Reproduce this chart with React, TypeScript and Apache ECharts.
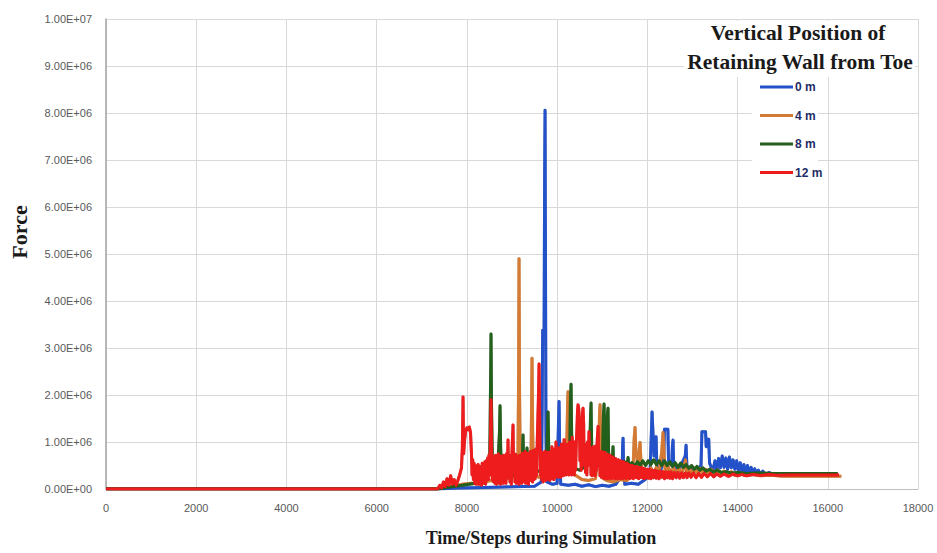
import { useEffect, useRef } from "react";
import * as echarts from "echarts";

// Legend labels and line colours, one per wall position
const seriesNames = ["0 m", "4 m", "8 m", "12 m"];
const seriesColors = ["#2451c9", "#d57a33", "#24601f", "#ee1b1b"];

// Axis ranges
const xMax = 18000;
const xStep = 2000;
const yMax = 1e7;
const yStep = 1e6;

// [time step, force in units of 1e6]
const wall0m: [number, number][] = [
  [0, 0], [7350, 0], [7800, 0.02], [8400, 0.03], [9000, 0.05], [9500, 0.06], [9650, 0.15],
  [9668, 1.6], [9680, 3.38], [9712, 3.38], [9724, 6.8], [9733, 8.06], [9742, 5.0], [9752, 1.2],
  [9770, 0.15], [9900, 0.1], [10000, 0.12], [10028, 1.3], [10043, 1.86], [10058, 0.8], [10080, 0.1],
  [10250, 0.08], [10400, 0.1], [10550, 0.06], [10700, 0.09], [10850, 0.05], [11000, 0.08],
  [11150, 0.06], [11300, 0.1], [11440, 0.3], [11452, 0.9], [11462, 1.08], [11474, 0.5], [11500, 0.1],
  [11650, 0.12], [11800, 0.1], [11950, 0.2], [12060, 0.35], [12090, 1.2], [12105, 1.64],
  [12120, 1.3], [12150, 0.7], [12180, 1.0], [12194, 1.11], [12210, 0.5], [12280, 0.35],
  [12360, 0.6], [12380, 1.27], [12455, 1.27], [12470, 0.6], [12540, 0.5], [12555, 0.9],
  [12570, 1.04], [12585, 0.5], [12700, 0.4], [12840, 0.7], [12859, 0.93], [12878, 0.45],
  [13000, 0.4], [13100, 0.38], [13190, 0.5], [13210, 1.22], [13290, 1.22], [13305, 0.9],
  [13330, 1.06], [13360, 1.06], [13380, 0.55], [13450, 0.38], [13500, 0.6], [13540, 0.4],
  [13580, 0.65], [13620, 0.45], [13660, 0.7], [13700, 0.46], [13740, 0.66], [13780, 0.42],
  [13820, 0.68], [13860, 0.45], [13900, 0.62], [13940, 0.42], [13980, 0.6], [14020, 0.38],
  [14060, 0.56], [14100, 0.37], [14140, 0.52], [14180, 0.35], [14220, 0.5], [14260, 0.34],
  [14300, 0.46], [14340, 0.33], [14380, 0.43], [14420, 0.32], [14460, 0.4], [14500, 0.31],
  [14560, 0.38], [14620, 0.3], [14700, 0.35], [14800, 0.3], [14900, 0.33], [15000, 0.3],
  [15400, 0.3], [15800, 0.3], [16150, 0.3],
];

const wall4m: [number, number][] = [
  [0, 0], [7350, 0], [7500, 0.04], [7700, 0.06], [7900, 0.1], [8100, 0.12], [8300, 0.1],
  [8500, 0.18], [8700, 0.15], [8900, 0.22], [9050, 0.28], [9130, 0.4], [9145, 2.2], [9156, 4.9],
  [9168, 2.0], [9185, 0.3], [9300, 0.25], [9420, 0.45], [9432, 1.6], [9444, 2.78], [9458, 1.2],
  [9475, 0.3], [9600, 0.25], [9750, 0.3], [9900, 0.22], [10050, 0.3], [10180, 0.35], [10220, 1.2],
  [10235, 1.9], [10243, 2.07], [10258, 1.6], [10280, 0.5], [10400, 0.3], [10550, 0.2],
  [10700, 0.18], [10850, 0.22], [10925, 0.8], [10940, 1.6], [10952, 1.79], [10965, 1.1],
  [10985, 0.25], [11100, 0.18], [11250, 0.15], [11400, 0.2], [11550, 0.18], [11680, 0.35],
  [11710, 1.1], [11728, 1.31], [11745, 0.8], [11790, 0.5], [11815, 0.8], [11839, 0.99],
  [11860, 0.55], [11900, 0.3], [11960, 0.42], [12020, 0.3], [12080, 0.45], [12140, 0.32],
  [12200, 0.46], [12260, 0.34], [12320, 0.8], [12349, 1.2], [12372, 0.7], [12400, 0.36],
  [12460, 0.48], [12520, 0.34], [12580, 0.46], [12640, 0.33], [12700, 0.45], [12760, 0.32],
  [12820, 0.5], [12845, 0.62], [12870, 0.35], [12930, 0.45], [12990, 0.33], [13050, 0.44],
  [13110, 0.32], [13170, 0.44], [13230, 0.33], [13290, 0.42], [13350, 0.32], [13420, 0.42],
  [13490, 0.31], [13560, 0.4], [13630, 0.31], [13700, 0.38], [13780, 0.3], [13860, 0.37],
  [13940, 0.29], [14020, 0.35], [14150, 0.29], [14300, 0.32], [14500, 0.28], [14750, 0.29],
  [15000, 0.27], [15400, 0.27], [15800, 0.27], [16200, 0.27], [16300, 0.27],
];

const wall8m: [number, number][] = [
  [0, 0], [7350, 0], [7600, 0.04], [7900, 0.08], [8200, 0.12], [8400, 0.18], [8505, 0.5],
  [8522, 2.0], [8535, 3.3], [8548, 1.6], [8570, 0.35], [8680, 0.4], [8722, 1.2], [8735, 1.77],
  [8748, 0.9], [8770, 0.3], [8900, 0.35], [9050, 0.3], [9200, 0.45], [9235, 0.8], [9245, 1.15],
  [9258, 0.5], [9320, 0.5], [9333, 0.87], [9346, 0.4], [9500, 0.35], [9650, 0.4], [9770, 0.55],
  [9788, 1.3], [9800, 1.64], [9815, 0.8], [9840, 0.35], [10000, 0.4], [10150, 0.45],
  [10280, 0.6], [10296, 1.9], [10309, 2.23], [10322, 1.2], [10345, 0.45], [10500, 0.4],
  [10650, 0.5], [10728, 1.0], [10742, 1.6], [10753, 1.83], [10766, 0.9], [10790, 0.45],
  [10900, 0.5], [11010, 0.7], [11028, 1.6], [11041, 1.81], [11056, 0.9], [11080, 0.8],
  [11100, 1.2], [11115, 1.6], [11129, 1.72], [11143, 0.7], [11180, 0.5], [11228, 0.7],
  [11240, 0.9], [11252, 0.5], [11320, 0.55], [11400, 0.5], [11480, 0.58], [11555, 0.55],
  [11573, 0.67], [11590, 0.5], [11660, 0.56], [11720, 0.48], [11780, 0.58], [11840, 0.5],
  [11900, 0.6], [11960, 0.5], [12020, 0.6], [12080, 0.52], [12140, 0.62], [12200, 0.52],
  [12260, 0.6], [12320, 0.5], [12380, 0.6], [12440, 0.5], [12500, 0.58], [12560, 0.48],
  [12620, 0.56], [12680, 0.46], [12740, 0.55], [12800, 0.46], [12860, 0.52], [12920, 0.44],
  [12980, 0.5], [13040, 0.42], [13100, 0.48], [13160, 0.4], [13230, 0.45], [13300, 0.38],
  [13380, 0.42], [13460, 0.36], [13550, 0.4], [13650, 0.35], [13750, 0.37], [13850, 0.34],
  [14000, 0.35], [14200, 0.33], [14500, 0.34], [14800, 0.33], [15200, 0.33], [15600, 0.33],
  [16000, 0.33], [16220, 0.33],
];

const wall12m: [number, number][] = [
  [0, 0], [7350, 0], [7400, 0.08], [7440, 0.02], [7480, 0.15], [7520, 0.05], [7560, 0.22],
  [7600, 0.08], [7640, 0.28], [7680, 0.1], [7720, 0.2], [7760, 0.08], [7800, 0.18], [7840, 0.3],
  [7880, 0.45], [7900, 0.9], [7915, 1.96], [7928, 0.75], [7950, 1.05], [7975, 1.25], [8000, 1.3],
  [8030, 1.26], [8055, 1.32], [8080, 1.2], [8100, 0.8], [8115, 0.3], [8130, 0.62], [8145, 0.2],
  [8160, 0.55], [8175, 0.12], [8190, 0.5], [8205, 0.1], [8220, 0.45], [8235, 0.15], [8250, 0.52],
  [8265, 0.1], [8280, 0.42], [8295, 0.12], [8310, 0.48], [8325, 0.08], [8340, 0.55], [8355, 0.15],
  [8370, 0.5], [8385, 0.12], [8400, 0.58], [8415, 0.1], [8430, 0.6], [8445, 0.2], [8460, 0.66],
  [8475, 0.2], [8490, 0.72], [8505, 0.3], [8520, 0.95], [8535, 1.9], [8550, 0.6], [8565, 0.2],
  [8580, 0.7], [8595, 0.15], [8610, 0.65], [8625, 0.12], [8640, 0.72], [8655, 0.1], [8670, 0.6],
  [8685, 0.15], [8700, 0.75], [8715, 0.12], [8730, 0.62], [8745, 0.1], [8760, 0.7], [8775, 0.15],
  [8790, 0.66], [8805, 0.12], [8820, 0.72], [8835, 0.18], [8850, 0.64], [8865, 0.12], [8880, 0.75],
  [8895, 0.3], [8912, 1.04], [8925, 0.25], [8940, 0.68], [8955, 0.15], [8970, 0.72], [8985, 0.1],
  [9000, 0.8], [9012, 1.1], [9023, 1.36], [9035, 0.4], [9050, 0.7], [9065, 0.15], [9080, 0.74],
  [9095, 0.12], [9110, 0.7], [9125, 0.15], [9140, 0.66], [9155, 0.1], [9170, 0.72], [9185, 0.15],
  [9200, 0.68], [9215, 0.12], [9230, 0.76], [9245, 0.18], [9260, 0.72], [9275, 0.15], [9290, 0.8],
  [9305, 0.12], [9320, 0.7], [9335, 0.15], [9350, 0.76], [9365, 0.1], [9380, 0.7], [9395, 0.18],
  [9410, 0.8], [9425, 0.2], [9440, 0.72], [9455, 0.15], [9470, 0.82], [9485, 0.2], [9500, 0.74],
  [9515, 0.22], [9530, 0.85], [9545, 0.3], [9565, 1.2], [9585, 1.9], [9600, 2.66], [9615, 1.4],
  [9630, 0.3], [9645, 0.8], [9660, 0.2], [9675, 0.78], [9690, 0.15], [9705, 0.72], [9720, 0.2],
  [9735, 0.8], [9750, 0.18], [9765, 0.7], [9780, 0.2], [9795, 0.78], [9810, 0.22], [9825, 0.68],
  [9840, 0.18], [9855, 0.8], [9870, 0.25], [9885, 0.9], [9900, 0.22], [9915, 0.74], [9930, 0.2],
  [9945, 0.85], [9960, 0.25], [9975, 1.0], [9990, 0.3], [10005, 0.8], [10020, 0.25], [10035, 0.88],
  [10050, 0.3], [10065, 0.78], [10080, 0.25], [10095, 0.95], [10110, 0.3], [10125, 0.82],
  [10140, 0.28], [10155, 1.05], [10170, 0.32], [10185, 0.85], [10200, 0.3], [10215, 0.95],
  [10230, 0.35], [10245, 0.88], [10260, 0.3], [10275, 1.0], [10290, 0.35], [10305, 0.86],
  [10320, 0.3], [10335, 1.1], [10350, 0.35], [10365, 0.9], [10380, 0.3], [10395, 1.0],
  [10410, 0.4], [10425, 0.95], [10440, 1.3], [10452, 1.65], [10464, 1.79], [10478, 1.72],
  [10492, 1.5], [10506, 0.6], [10520, 0.9], [10535, 0.4], [10550, 1.2], [10562, 1.6],
  [10575, 1.72], [10588, 1.4], [10600, 0.5], [10615, 0.95], [10630, 0.35], [10645, 0.85],
  [10660, 0.3], [10675, 1.0], [10690, 0.5], [10708, 1.22], [10722, 0.5], [10737, 0.88],
  [10752, 0.3], [10767, 0.82], [10782, 0.28], [10797, 0.9], [10812, 0.3], [10827, 0.8],
  [10842, 0.28], [10857, 0.92], [10872, 0.4], [10890, 1.05], [10908, 1.33], [10922, 0.5],
  [10937, 0.8], [10952, 0.28], [10967, 0.76], [10982, 0.25], [10997, 0.8], [11012, 0.25],
  [11027, 0.74], [11042, 0.22], [11057, 0.78], [11072, 0.25], [11087, 0.7], [11102, 0.22],
  [11117, 0.74], [11132, 0.25], [11147, 0.68], [11162, 0.22], [11177, 0.72], [11192, 0.25],
  [11207, 0.65], [11222, 0.22], [11237, 0.68], [11252, 0.25], [11267, 0.62], [11282, 0.22],
  [11297, 0.65], [11312, 0.24], [11327, 0.6], [11342, 0.22], [11357, 0.62], [11372, 0.25],
  [11387, 0.58], [11402, 0.22], [11417, 0.6], [11432, 0.25], [11447, 0.56], [11462, 0.22],
  [11477, 0.58], [11492, 0.25], [11510, 0.54], [11530, 0.22], [11550, 0.55], [11570, 0.25],
  [11590, 0.52], [11610, 0.22], [11630, 0.5], [11650, 0.24], [11670, 0.5], [11690, 0.22],
  [11710, 0.48], [11730, 0.25], [11750, 0.48], [11770, 0.24], [11790, 0.46], [11810, 0.22],
  [11830, 0.46], [11850, 0.25], [11870, 0.45], [11890, 0.24], [11910, 0.44], [11930, 0.22],
  [11950, 0.43], [11975, 0.24], [12000, 0.42], [12025, 0.23], [12050, 0.42], [12080, 0.22],
  [12110, 0.4], [12140, 0.24], [12170, 0.4], [12200, 0.23], [12230, 0.38], [12260, 0.22],
  [12290, 0.38], [12320, 0.25], [12350, 0.37], [12380, 0.22], [12410, 0.36], [12440, 0.24],
  [12470, 0.36], [12500, 0.23], [12530, 0.36], [12560, 0.22], [12600, 0.35], [12640, 0.24],
  [12680, 0.35], [12720, 0.23], [12760, 0.34], [12800, 0.24], [12840, 0.34], [12880, 0.24],
  [12920, 0.34], [12970, 0.25], [13020, 0.34], [13080, 0.24], [13140, 0.33], [13200, 0.25],
  [13260, 0.33], [13330, 0.26], [13400, 0.33], [13470, 0.26], [13540, 0.32], [13620, 0.27],
  [13700, 0.32], [13800, 0.27], [13900, 0.32], [14000, 0.28], [14100, 0.31], [14200, 0.28],
  [14350, 0.31], [14500, 0.29], [14700, 0.31], [14900, 0.29], [15200, 0.3], [15500, 0.3],
  [15800, 0.3], [16100, 0.3], [16250, 0.3],
];

const seriesData = [wall0m, wall4m, wall8m, wall12m];

// 1000000 -> "1.00E+06"
function sci(v: number): string {
  if (v === 0) return "0.00E+00";
  const e = Math.floor(Math.log10(v) + 1e-9);
  const m = v / Math.pow(10, e);
  return `${m.toFixed(2)}E+${String(e).padStart(2, "0")}`;
}

const serif = '"Liberation Serif", "Times New Roman", serif';
const sans = '"Liberation Sans", Arial, sans-serif';

export default function App() {
  const ref = useRef<HTMLDivElement>(null);

  useEffect(() => {
    const chart = echarts.init(ref.current!, null, { renderer: "svg" });
    chart.setOption({
      animation: false,
      backgroundColor: "#ffffff",
      grid: { left: 106, right: 19, top: 19, bottom: 64, containLabel: false },
      xAxis: {
        type: "value",
        min: 0,
        max: xMax,
        interval: xStep,
        axisLine: { show: true, lineStyle: { color: "#bfbfbf", width: 1 } },
        axisTick: { show: false },
        axisLabel: {
          color: "#595959",
          fontSize: 11,
          fontFamily: sans,
          margin: 13,
          formatter: (v: number) => String(v),
        },
        splitLine: { show: true, lineStyle: { color: "#d9d9d9", width: 1 } },
      },
      yAxis: {
        type: "value",
        min: 0,
        max: yMax,
        interval: yStep,
        axisLine: { show: true, lineStyle: { color: "#a6a6a6", width: 1.5 } },
        axisTick: { show: false },
        axisLabel: {
          color: "#595959",
          fontSize: 11,
          fontFamily: sans,
          margin: 14,
          formatter: (v: number) => sci(v),
        },
        splitLine: { show: true, lineStyle: { color: "#d9d9d9", width: 1 } },
      },
      legend: {
        data: seriesNames,
        orient: "vertical",
        left: 755,
        top: 76,
        icon: "rect",
        itemWidth: 33,
        itemHeight: 3,
        itemGap: 16.5,
        textStyle: {
          color: "#1f2d66",
          fontSize: 12,
          fontWeight: "bold",
          fontFamily: sans,
          padding: [0, 0, 0, -3],
        },
      },
      graphic: [
        // white boxes behind the legend title and entries
        {
          type: "rect",
          z: 1,
          silent: true,
          shape: { x: 684, y: 21, width: 231, height: 56 },
          style: { fill: "#ffffff" },
        },
        {
          type: "rect",
          z: 1,
          silent: true,
          shape: { x: 752, y: 77, width: 66, height: 108 },
          style: { fill: "#ffffff" },
        },
        {
          type: "text",
          x: 798,
          y: 33,
          z: 2,
          silent: true,
          style: {
            text: "Vertical Position of",
            font: `bold 21.5px ${serif}`,
            fill: "#1a1a1a",
            textAlign: "center",
            textVerticalAlign: "middle",
          },
        },
        {
          type: "text",
          x: 800,
          y: 62,
          z: 2,
          silent: true,
          style: {
            text: "Retaining Wall from Toe",
            font: `bold 21.5px ${serif}`,
            fill: "#1a1a1a",
            textAlign: "center",
            textVerticalAlign: "middle",
          },
        },
        {
          type: "text",
          x: 19,
          y: 232,
          rotation: Math.PI / 2,
          silent: true,
          style: {
            text: "Force",
            font: `bold 22px ${serif}`,
            fill: "#1a1a1a",
            textAlign: "center",
            textVerticalAlign: "middle",
          },
        },
        {
          type: "text",
          x: 541,
          y: 538,
          silent: true,
          style: {
            text: "Time/Steps during Simulation",
            font: `bold 18px ${serif}`,
            fill: "#1a1a1a",
            textAlign: "center",
            textVerticalAlign: "middle",
          },
        },
      ],
      series: seriesData.map((pts, i) => ({
        name: seriesNames[i],
        type: "line",
        showSymbol: false,
        symbol: "none",
        silent: true,
        clip: true,
        color: seriesColors[i],
        lineStyle: {
          width: 3,
          color: seriesColors[i],
          join: "round",
          shadowColor: "rgba(20, 0, 0, 0.45)",
          shadowBlur: 1.5,
        },
        data: pts.map(([s, f]) => [s, f * 1e6]),
      })),
    });
    return () => chart.dispose();
  }, []);

  return (
    <div
      ref={ref}
      style={{ position: "fixed", left: 0, top: 0, width: 937, height: 553 }}
    />
  );
}
